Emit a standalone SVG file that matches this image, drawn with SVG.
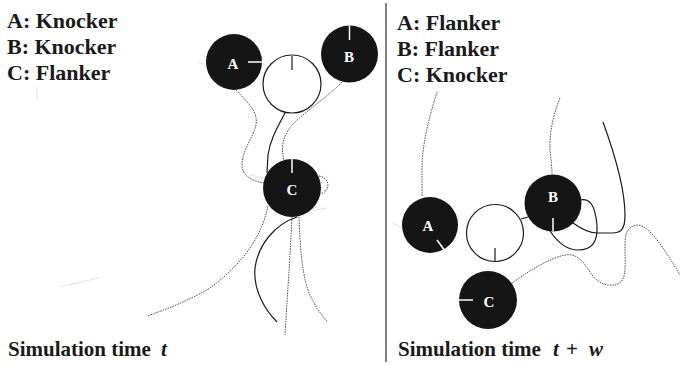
<svg xmlns="http://www.w3.org/2000/svg" width="680" height="365" viewBox="0 0 680 365">
  <style>
    .hdr { font-family: 'Liberation Serif', 'DejaVu Serif', serif; font-weight: bold; font-size: 22px; fill: #1a1a1a; }
    .cap { font-family: 'Liberation Serif', 'DejaVu Serif', serif; font-weight: bold; font-size: 21px; fill: #1a1a1a; }
    .it { font-style: italic; }
    .robot { fill: #151515; }
    .ball { fill: #ffffff; stroke: #1a1a1a; stroke-width: 1.2; }
    .lbl { font-family: 'Liberation Serif', 'DejaVu Serif', serif; font-weight: bold; font-size: 15px; fill: #ffffff; text-anchor: middle; }
    .head { stroke: #ffffff; stroke-width: 1.5; }
    .ballhead { stroke: #1a1a1a; stroke-width: 1.2; }
    .trail { fill: none; stroke: #1a1a1a; stroke-width: 1.2; }
    .dot { fill: none; stroke: #555555; stroke-width: 1; stroke-dasharray: 1.6 1; }
    .faint { fill: none; stroke: #e2e2e2; stroke-width: 1; }
  </style>

  <!-- panel divider -->
  <line x1="386" y1="3" x2="386" y2="362" stroke="#555555" stroke-width="1.5"/>

  <!-- role legends -->
  <g id="legend-left">
    <text class="hdr" x="7" y="28">A: Knocker</text>
    <text class="hdr" x="7" y="54">B: Knocker</text>
    <text class="hdr" x="7" y="80">C: Flanker</text>
  </g>
  <g id="legend-right">
    <text class="hdr" x="397" y="30">A: Flanker</text>
    <text class="hdr" x="397" y="56">B: Flanker</text>
    <text class="hdr" x="397" y="82">C: Knocker</text>
  </g>

  <!-- movement trails -->
  <g id="trails">
    <!-- left panel -->
    <path class="dot" d="M236,90 C250,105 258,112 256,125 C253,138 242,150 242,165 C242,176 252,181 264,183"/>
    <path class="trail" d="M285,113 C277,128 270,140 268,155 L267,173"/>
    <path class="dot" d="M342,82 C330,95 310,108 295,122 C284,133 280,145 284,160"/>
    <path class="dot" d="M319,176 C330,178 331,190 321,194"/>
    <path class="dot" d="M268,206 C262,235 245,262 210,288 C190,300 165,310 147,316"/>
    <path class="trail" d="M297,217 C275,224 258,245 255,268 C253,290 265,310 277,322"/>
    <path class="dot" d="M292,217 C290,260 287,300 285,335"/>
    <path class="dot" d="M299,217 C300,250 303,280 310,295 C316,308 322,316 328,322"/>
    <!-- right panel -->
    <path class="dot" d="M437,92 C430,115 423,140 422,165 L422,197"/>
    <path class="dot" d="M560,98 C553,115 549,135 550,150 C551,160 552,168 552,174"/>
    <path class="trail" d="M603,122 C615,155 625,190 625,215 C625,228 622,233 612,233 L597,233 C590,233 580,228 573,223"/>
    <path class="trail" d="M580,200 C590,198 595,205 597,225 C598,242 592,250 578,250 C565,250 556,240 550,231"/>
    <path class="trail" d="M521,219 L528,217"/>
    <path class="dot" d="M512,283 C530,270 550,258 565,255 C578,253 583,262 590,272 C598,285 610,287 618,284 C627,280 625,265 625,245 C625,232 628,226 638,225 C650,226 665,250 680,275"/>
    <!-- faint marks -->
    <path class="faint" d="M37,87 L37,100"/>
    <path class="faint" d="M198,62 L206,65"/>
    <path class="faint" d="M250,175 L265,178"/>
    <path class="faint" d="M305,212 L327,208"/>
    <path class="faint" d="M60,287 L98,278"/>
    <path class="faint" d="M393,223 L402,228"/>
  </g>

  <!-- left panel: time t -->
  <g id="left-A">
    <circle class="robot" cx="234" cy="62" r="28"/>
    <line class="head" x1="248" y1="62" x2="262" y2="62"/>
    <text class="lbl" x="233" y="69">A</text>
  </g>
  <g id="left-ball">
    <circle class="ball" cx="292" cy="84" r="29"/>
    <line class="ballhead" x1="292" y1="56" x2="292" y2="70"/>
  </g>
  <g id="left-B">
    <circle class="robot" cx="349.5" cy="54" r="28.5"/>
    <line class="head" x1="349.5" y1="25.5" x2="349.5" y2="40"/>
    <text class="lbl" x="349" y="62">B</text>
  </g>
  <g id="left-C">
    <circle class="robot" cx="292" cy="188" r="29"/>
    <line class="head" x1="292" y1="159" x2="292" y2="173"/>
    <text class="lbl" x="292" y="195">C</text>
  </g>

  <!-- right panel: time t + w -->
  <g id="right-A">
    <circle class="robot" cx="430" cy="225" r="28"/>
    <line class="head" x1="437" y1="240" x2="445" y2="251"/>
    <text class="lbl" x="428" y="231">A</text>
  </g>
  <g id="right-ball">
    <circle class="ball" cx="495" cy="233" r="28.5"/>
    <line class="ballhead" x1="495" y1="248" x2="495" y2="261.5"/>
  </g>
  <g id="right-B">
    <circle class="robot" cx="553" cy="203" r="28.5"/>
    <line class="head" x1="553" y1="218" x2="553" y2="231.5"/>
    <text class="lbl" x="553" y="202">B</text>
  </g>
  <g id="right-C">
    <circle class="robot" cx="488" cy="300" r="29"/>
    <line class="head" x1="459" y1="300" x2="473" y2="300"/>
    <text class="lbl" x="489" y="307">C</text>
  </g>

  <!-- captions -->
  <g id="caption-left">
    <text class="cap" x="8" y="356">Simulation time <tspan class="it" x="161">t</tspan></text>
  </g>
  <g id="caption-right">
    <text class="cap" x="398" y="356">Simulation time <tspan class="it" x="553">t</tspan><tspan x="566">+</tspan><tspan class="it" x="589">w</tspan></text>
  </g>
</svg>
